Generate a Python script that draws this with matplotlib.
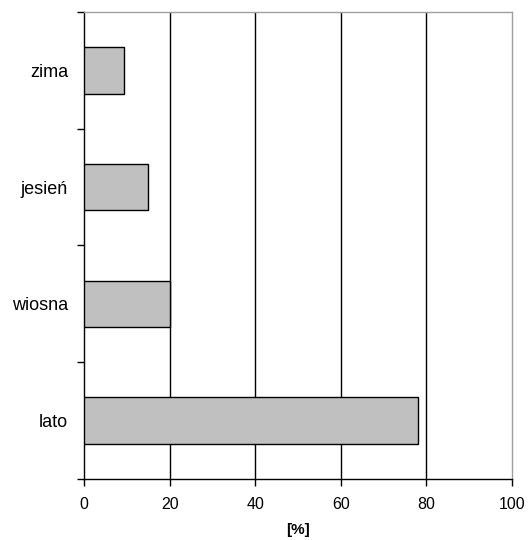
import numpy as np
import matplotlib.pyplot as plt

plt.rcParams["font.family"] = ["Liberation Sans", "DejaVu Sans"]

# Data
seasons = ["lato", "wiosna", "jesień", "zima"]
shares = [78, 20, 15, 9.3]
x_ticks = [0, 20, 40, 60, 80, 100]

fig = plt.figure(figsize=(5.29, 5.4), dpi=100)
ax = fig.add_axes([0.1588, 0.1130, 0.8091, 0.8648])

ypos = np.arange(len(seasons))
ax.barh(ypos, shares, height=0.4, color="#c0c0c0", edgecolor="black",
        linewidth=1.0, zorder=3)

ax.set_xlim(0, 100)
ax.set_ylim(-0.5, len(seasons) - 0.5)
ax.set_xticks(x_ticks)
ax.set_xticklabels([str(t) for t in x_ticks], fontsize=11.5)

# category labels centered, ticks between categories
ax.set_yticks(ypos)
ax.set_yticklabels(seasons, fontsize=13)
ax.tick_params(axis="y", which="major", length=0, pad=11.5)
ax.set_yticks(np.arange(-0.5, len(seasons), 1.0), minor=True)
ax.tick_params(axis="y", which="minor", length=5, width=1, color="black")
ax.tick_params(axis="x", length=5, width=1, pad=8)

# vertical grid lines
for t in x_ticks[1:-1]:
    ax.axvline(t, color="black", linewidth=1.0, zorder=1)

for side in ["top", "right"]:
    ax.spines[side].set_color("#a0a0a0")
    ax.spines[side].set_linewidth(1.0)
for side in ["left", "bottom"]:
    ax.spines[side].set_color("black")
    ax.spines[side].set_linewidth(1.0)

ax.set_xlabel("[%]", fontsize=11, fontweight="bold", labelpad=8)

fig.savefig("out.png", dpi=100)
